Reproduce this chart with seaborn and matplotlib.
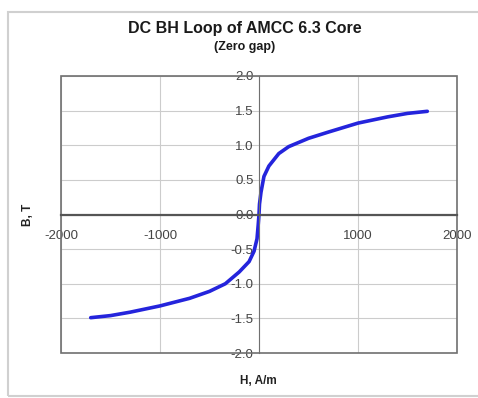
import pandas as pd
import seaborn as sns
import matplotlib.pyplot as plt
from matplotlib.patches import Rectangle

# B-H curve (H in A/m, B in T)
h_vals = [-1700, -1500, -1300, -1000, -700, -500, -340, -200, -100, -50, -20, -8, 0,
          5, 20, 50, 100, 200, 300, 500, 700, 1000, 1300, 1500, 1700]
b_vals = [-1.49, -1.46, -1.41, -1.32, -1.21, -1.11, -1.00, -0.83, -0.68, -0.53, -0.35, -0.15, 0.0,
          0.15, 0.32, 0.55, 0.70, 0.88, 0.98, 1.10, 1.19, 1.32, 1.41, 1.46, 1.49]
x_ticks = [-2000, -1000, 0, 1000, 2000]
x_labels = ['-2000', '-1000', '', '1000', '2000']
y_ticks = [-2.0, -1.5, -1.0, -0.5, 0.0, 0.5, 1.0, 1.5, 2.0]

df = pd.DataFrame({'H': h_vals, 'B': b_vals})

sns.set_style('white')
plt.rcParams['font.family'] = ['Liberation Sans', 'DejaVu Sans']
plt.rcParams['axes.unicode_minus'] = False

fig = plt.figure(figsize=(4.78, 3.98), dpi=100)
fig.patches.append(Rectangle((8 / 478, 0.005), 0.99, 1 - 12 / 398 - 0.005, transform=fig.transFigure,
                             fill=False, edgecolor='#d0d0d0', linewidth=1.5))
ax = fig.add_axes([61 / 478, 1 - 353 / 398, 396 / 478, 277 / 398])

ax.grid(True, color='#cccccc', linewidth=0.8)
ax.set_axisbelow(True)
sns.lineplot(data=df, x='H', y='B', sort=False, color='#2424dc', linewidth=2.6, ax=ax)

ax.set_xlim(-2000, 2000)
ax.set_ylim(-2.0, 2.0)
ax.set_xticks(x_ticks)
ax.set_xticklabels(x_labels)
ax.set_yticks(y_ticks)
ax.set_yticklabels([f'{v:.1f}' for v in y_ticks])

ax.spines['left'].set_position(('data', 0))
ax.spines['bottom'].set_position(('data', 0))
ax.spines['left'].set_color('#707070')
ax.spines['bottom'].set_color('#555555')
ax.spines['bottom'].set_linewidth(1.6)
ax.spines['top'].set_visible(False)
ax.spines['right'].set_visible(False)
ax.add_patch(Rectangle((0, 0), 1, 1, transform=ax.transAxes, fill=False,
                       edgecolor='#707070', linewidth=1.2, clip_on=False))
ax.tick_params(axis='both', direction='inout', length=4, color='#707070',
               labelsize=9.5, labelcolor='#444444', pad=2)
ax.tick_params(axis='x', pad=9)

ax.set_xlabel('')
ax.set_ylabel('')
fig.text(258 / 478, 1 - 381 / 398, 'H, A/m', ha='center', va='center', fontsize=8.5, fontweight='bold',
         color='#222222')
fig.text(28 / 478, 1 - 215 / 398, 'B, T', ha='center', va='center', rotation=90,
         fontsize=8.5, fontweight='bold', color='#222222')
fig.text(245 / 478, 1 - 28 / 398, 'DC BH Loop of AMCC 6.3 Core', ha='center', va='center',
         fontsize=11.5, fontweight='bold', color='#1a1a1a')
fig.text(245 / 478, 1 - 47 / 398, '(Zero gap)', ha='center', va='center', fontsize=9,
         fontweight='bold', color='#1a1a1a')

fig.savefig('out.png', dpi=100)
